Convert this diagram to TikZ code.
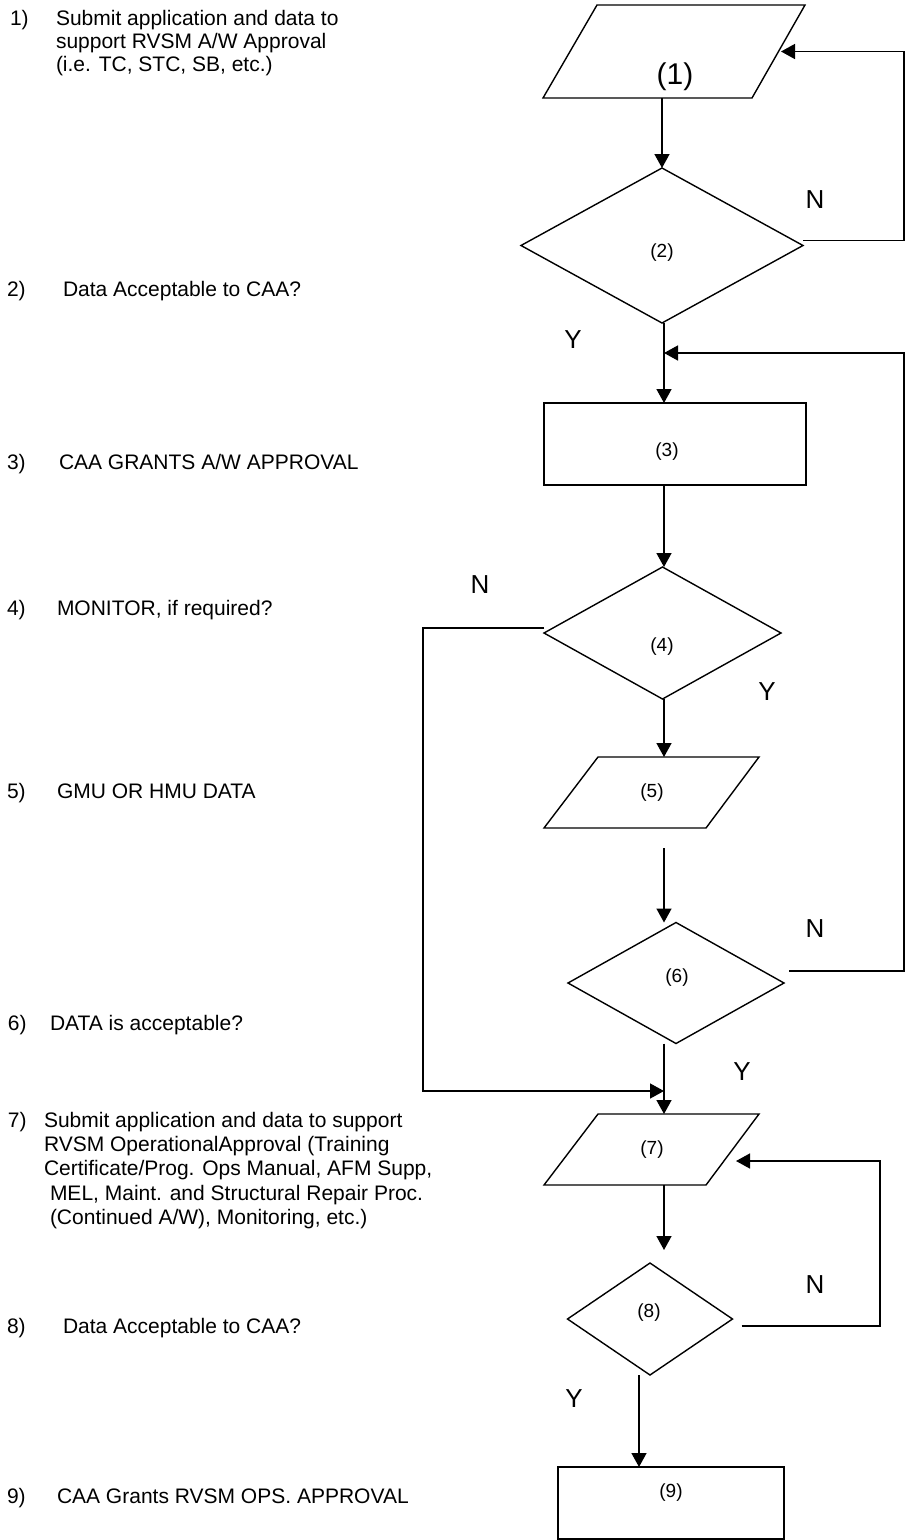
\documentclass[tikz,border=0pt]{standalone}
\usepackage{fontspec}
\setmainfont{Liberation Sans}
\usetikzlibrary{shapes.geometric,arrows.meta,calc}
\begin{document}
\begin{tikzpicture}[x=1pt,y=-1pt,
  every node/.style={inner sep=0pt, outer sep=0pt},
  conn/.style={draw, line width=1.5pt},
  arr/.style={conn, -{Triangle[length=14pt,width=15pt]}},
  dia/.style={draw, diamond, line width=1.4pt, inner sep=0pt},
  pbox/.style={rectangle, inner sep=0pt},
  shp/.style={draw, line width=1.4pt, line join=miter},
  box/.style={draw, rectangle, line width=1.4pt},
  lt/.style={anchor=base west, font=\fontsize{21}{24}\selectfont},
  yn/.style={font=\fontsize{26}{28}\selectfont},
  num/.style={font=\fontsize{19}{21}\selectfont}]
\useasboundingbox (0,0) rectangle (908,1540);

% ---- left descriptions ----
\node[lt] (n1) at (10,25) {1)};
\node[lt] (t1a) at (56,25) {Submit application and data to};
\node[lt] (t1b) at (56,48) {support RVSM A/W Approval};
\node[lt] (t1c) at (56,71) {(i.e. TC, STC, SB, etc.)};
\node[lt] (n2) at (7,296) {2)};
\node[lt] (t2) at (63,296) {Data Acceptable to CAA?};
\node[lt] (n3) at (7,469) {3)};
\node[lt] (t3) at (59,469) {CAA GRANTS A/W APPROVAL};
\node[lt] (n4) at (7,615) {4)};
\node[lt] (t4) at (57,615) {MONITOR, if required?};
\node[lt] (n5) at (7,798) {5)};
\node[lt] (t5) at (57,798) {GMU OR HMU DATA};
\node[lt] (n6) at (8,1030) {6)};
\node[lt] (t6) at (50,1030) {DATA is acceptable?};
\node[lt] (n7) at (8,1127) {7)};
\node[lt] (t7a) at (44,1127) {Submit application and data to support};
\node[lt] (t7b) at (44,1151) {RVSM OperationalApproval (Training};
\node[lt] (t7c) at (44,1175) {Certificate/Prog. Ops Manual, AFM Supp,};
\node[lt] (t7d) at (50,1200) {MEL, Maint. and Structural Repair Proc.};
\node[lt] (t7e) at (50,1224) {(Continued A/W), Monitoring, etc.)};
\node[lt] (n8) at (7,1333) {8)};
\node[lt] (t8) at (63,1333) {Data Acceptable to CAA?};
\node[lt] (n9) at (7,1503) {9)};
\node[lt] (t9) at (57,1503) {CAA Grants RVSM OPS. APPROVAL};

% ---- flow shapes ----
\node[pbox, minimum width=262pt, minimum height=93pt] (p1) at (674,51.5) {};
\draw[shp] ($(p1.north west)+(54,0)$) -- (p1.north east) -- ($(p1.south east)+(-53,0)$) -- (p1.south west) -- cycle;
\node[dia, minimum width=282pt, minimum height=155pt] (d2) at (662,245.5) {};
\node[box, minimum width=262pt, minimum height=82pt] (r3) at (675,444) {};
\node[dia, minimum width=237pt, minimum height=132pt] (d4) at (662.5,633) {};
\node[pbox, minimum width=215pt, minimum height=71pt] (p5) at (651.5,792.5) {};
\draw[shp] ($(p5.north west)+(54,0)$) -- (p5.north east) -- ($(p5.south east)+(-53,0)$) -- (p5.south west) -- cycle;
\node[dia, minimum width=216pt, minimum height=121pt] (d6) at (676,983) {};
\node[pbox, minimum width=215pt, minimum height=71pt] (p7) at (651.5,1149.5) {};
\draw[shp] ($(p7.north west)+(54,0)$) -- (p7.north east) -- ($(p7.south east)+(-53,0)$) -- (p7.south west) -- cycle;
\node[dia, minimum width=165pt, minimum height=112pt] (d8) at (650,1319) {};
\node[box, minimum width=226pt, minimum height=72pt] (r9) at (671,1503) {};

% ---- numbers inside shapes ----
\node[font=\fontsize{30}{32}\selectfont] (l1) at (675,77) {(1)};
\node[num] (l2) at (662,253) {(2)};
\node[num] (l3) at (667,452) {(3)};
\node[num] (l4) at (662,647) {(4)};
\node[num] (l5) at (652,793) {(5)};
\node[num] (l6) at (677,978) {(6)};
\node[num] (l7) at (652,1150) {(7)};
\node[num] (l8) at (649,1313) {(8)};
\node[num] (l9) at (671,1493) {(9)};

% ---- Y / N labels ----
\node[yn] (yn2n) at (815,200) {N};
\node[yn] (yn2y) at (573,340) {Y};
\node[yn] (yn4n) at (480,585) {N};
\node[yn] (yn4y) at (767,692) {Y};
\node[yn] (yn6n) at (815,929) {N};
\node[yn] (yn6y) at (742,1072) {Y};
\node[yn] (yn8n) at (815,1285) {N};
\node[yn] (yn8y) at (574,1399) {Y};

% ---- helper coordinates ----
\coordinate (ax) at (664,0);
\coordinate (rr) at (904,0);
\coordinate (rb) at (880,0);
\coordinate (ll) at (423,0);
\coordinate (ay) at (639,0);
\coordinate (j1) at (664,353);
\coordinate (j2) at (664,1091);
\coordinate (c7) at (664,848);
\coordinate (c10) at (664,1250);

% ---- connectors ----
\draw[arr] (d2.north |- p1.south) -- (d2.north);
\draw[arr] ($(d2.east)+(0,-5)$) -- ($(rr |- d2.east)+(0,-5)$) |- ($(p1.east)+(-24,0)$);
\draw[arr] (ax |- d2.south) -- (ax |- r3.north);
\draw[arr] ($(d6.east)+(5,-12)$) -- ($(rr |- d6.east)+(0,-12)$) |- (j1);
\draw[arr] (ax |- r3.south) -- (ax |- d4.north);
\draw[arr] (ax |- d4.south) -- (ax |- p5.north);
\draw[arr] (c7) -- (c7 |- d6.north);
\draw[arr] (ax |- d6.south) -- (ax |- p7.north);
\draw[arr] ($(d4.west)+(0,-5)$) -- ($(ll |- d4.west)+(0,-5)$) |- (j2);
\draw[arr] (ax |- p7.south) -- (c10);
\draw[arr] ($(d8.east)+(9,7)$) -- ($(rb |- d8.east)+(0,7)$) |- ($(p7.east)+(-23,11.5)$);
\draw[arr] (ay |- d8.south) -- (ay |- r9.north);
\end{tikzpicture}
\end{document}
